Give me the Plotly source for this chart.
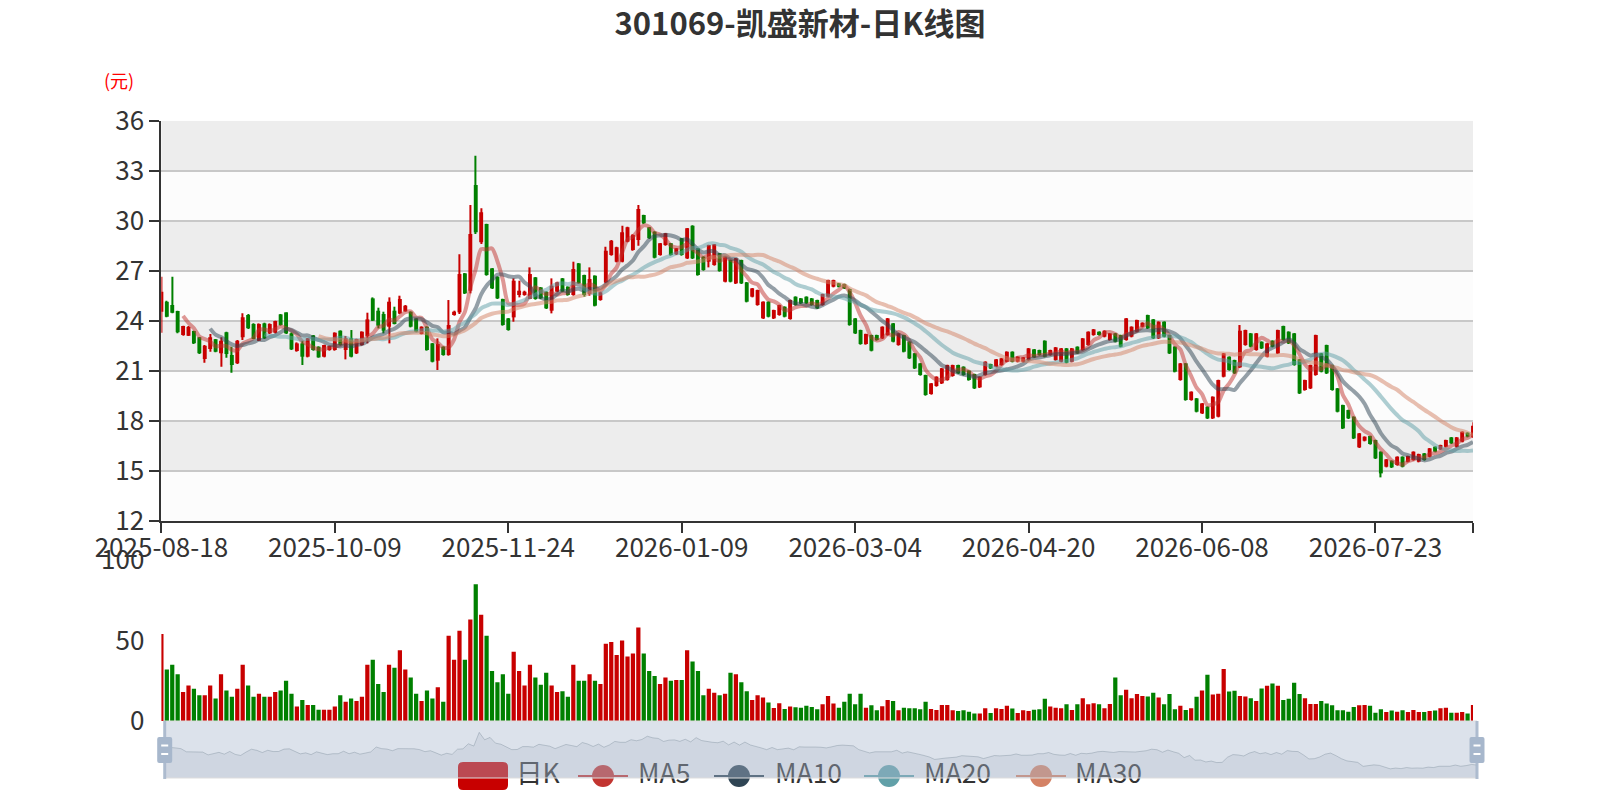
import pandas as pd
import plotly.graph_objects as go

title = "301069-凯盛新材-日K线图"

# trading calendar (weekdays minus exchange holidays)
holidays = ["2025-10-01", "2025-10-02", "2025-10-03", "2025-10-06", "2025-10-07",
            "2025-10-08", "2026-01-01", "2026-01-02", "2026-02-16", "2026-02-17",
            "2026-02-18", "2026-02-19", "2026-02-20", "2026-02-23", "2026-04-06",
            "2026-05-01", "2026-05-04", "2026-05-05", "2026-06-19"]
dates = [d.strftime("%Y-%m-%d") for d in pd.bdate_range("2025-08-18", "2026-08-18")]
dates = [d for d in dates if d not in holidays]

opens = [
    24.54, 25.14, 24.94, 24.58, 23.14, 23.10, 23.38, 23.00, 21.70, 22.30,
    22.88, 22.04, 23.30, 21.94, 21.44, 23.00, 24.34, 23.80, 22.80, 23.84,
    23.24, 23.28, 24.38, 24.50, 23.24, 22.18, 22.64, 21.84, 23.12, 22.44,
    21.84, 22.24, 22.24, 23.40, 22.24, 22.94, 22.04, 22.54, 23.08, 25.34,
    24.60, 24.40, 23.64, 24.60, 24.44, 24.56, 24.54, 24.14, 23.20, 23.64,
    22.64, 21.60, 22.44, 21.94, 24.34, 24.50, 26.84, 25.80, 32.14, 28.70,
    29.80, 27.14, 26.64, 25.30, 24.14, 24.20, 25.54, 25.54, 25.30, 26.60,
    26.00, 25.74, 24.60, 25.74, 26.54, 26.04, 25.54, 27.44, 26.74, 25.60,
    26.70, 25.24, 26.30, 27.94, 27.54, 27.54, 28.74, 28.24, 28.84, 30.34,
    29.60, 29.34, 27.94, 28.54, 28.64, 27.98, 28.94, 27.74, 29.70, 28.34,
    27.84, 27.54, 27.34, 28.04, 26.34, 27.64, 26.24, 27.64, 26.30, 25.44,
    24.94, 24.14, 25.14, 24.14, 24.34, 24.84, 24.10, 25.44, 25.34, 25.44,
    25.34, 25.24, 24.94, 25.44, 26.04, 26.24, 26.20, 25.90, 24.14, 23.44,
    22.60, 23.14, 23.14, 22.94, 23.14, 23.84, 22.54, 23.14, 22.74, 22.04,
    21.44, 20.74, 19.60, 20.08, 20.24, 20.44, 20.68, 21.34, 21.24, 21.00,
    20.80, 20.00, 20.74, 21.40, 21.24, 21.34, 21.54, 22.14, 21.54, 21.54,
    21.64, 22.28, 22.24, 22.80, 21.94, 21.64, 21.54, 22.34, 21.54, 22.44,
    22.24, 22.54, 23.14, 23.34, 23.04, 22.84, 23.24, 23.14, 22.84, 23.04,
    23.34, 23.64, 24.34, 24.08, 22.94, 23.94, 23.14, 22.44, 20.44, 21.44,
    19.24, 19.34, 18.44, 18.84, 18.14, 18.24, 20.64, 21.84, 21.64, 21.20,
    22.54, 23.24, 22.24, 22.74, 21.84, 22.80, 22.04, 23.68, 23.34, 23.24,
    21.68, 19.84, 19.94, 20.74, 22.04, 22.54, 21.34, 19.94, 18.94, 18.64,
    18.24, 16.40, 16.80, 17.08, 16.84, 16.14, 15.24, 15.60, 15.34, 15.84,
    15.54, 15.64, 15.54, 16.04, 15.84, 16.44, 16.28, 16.44, 17.00, 16.44,
    16.74, 17.28, 17.00,
]
closes = [
    25.74, 24.24, 24.48, 23.30, 23.68, 23.62, 22.64, 22.04, 22.50, 23.00,
    22.14, 22.80, 22.00, 21.34, 22.80, 24.20, 23.54, 22.90, 23.80, 22.94,
    23.80, 23.98, 23.74, 23.24, 22.28, 22.64, 21.84, 22.94, 22.24, 21.80,
    22.54, 22.48, 23.28, 22.54, 22.94, 21.84, 22.90, 23.34, 24.08, 24.00,
    23.70, 23.40, 25.14, 23.80, 25.30, 24.90, 23.64, 23.34, 23.64, 22.24,
    21.54, 22.60, 21.94, 23.74, 24.54, 26.80, 25.64, 29.20, 29.30, 30.50,
    26.74, 25.94, 25.34, 23.74, 23.44, 26.40, 25.80, 25.74, 26.80, 25.30,
    25.34, 24.74, 26.10, 26.30, 25.74, 25.54, 27.10, 26.24, 25.54, 26.50,
    24.90, 25.70, 28.20, 28.80, 28.40, 29.30, 29.60, 29.14, 30.70, 29.84,
    28.94, 27.78, 28.64, 29.24, 27.94, 28.34, 27.94, 29.54, 27.74, 26.74,
    27.04, 28.54, 28.58, 26.98, 27.84, 26.34, 27.74, 26.24, 25.14, 25.94,
    25.84, 25.14, 24.24, 24.64, 24.94, 24.24, 25.24, 24.94, 25.04, 25.04,
    24.94, 24.74, 25.60, 26.44, 26.44, 26.04, 25.94, 23.74, 23.24, 22.60,
    23.20, 22.20, 22.84, 23.64, 24.14, 22.74, 23.24, 22.14, 21.74, 21.14,
    20.74, 19.54, 20.24, 20.64, 21.14, 21.34, 21.34, 20.84, 20.74, 20.44,
    19.94, 20.64, 21.54, 21.14, 21.68, 21.74, 22.14, 21.54, 21.84, 21.80,
    22.34, 21.80, 21.94, 21.84, 22.24, 22.40, 22.34, 21.48, 22.34, 22.04,
    22.94, 23.34, 23.48, 23.14, 23.40, 23.24, 22.74, 22.44, 24.14, 23.64,
    24.04, 23.88, 23.54, 22.94, 23.94, 23.04, 22.04, 20.94, 21.44, 19.24,
    19.74, 18.54, 19.04, 18.14, 19.44, 20.44, 22.04, 21.04, 20.84, 23.40,
    23.44, 22.44, 23.24, 22.34, 22.64, 22.44, 23.44, 22.84, 22.64, 21.34,
    19.64, 20.44, 21.34, 23.14, 20.94, 20.84, 19.84, 18.54, 17.54, 18.14,
    16.94, 17.24, 17.04, 16.60, 15.74, 14.84, 15.68, 15.20, 15.84, 15.24,
    15.88, 16.14, 16.00, 15.64, 16.34, 16.14, 16.54, 16.84, 16.64, 17.00,
    17.34, 17.04, 17.70,
]
highs = [
    26.64, 25.20, 26.64, 24.60, 23.70, 23.68, 23.40, 23.02, 22.54, 23.20,
    22.90, 23.00, 23.34, 22.44, 22.84, 24.44, 24.40, 23.84, 23.84, 23.88,
    23.84, 24.00, 24.40, 24.50, 23.30, 22.70, 22.80, 22.96, 23.14, 22.46,
    22.56, 22.50, 23.30, 23.42, 23.08, 23.44, 22.92, 23.36, 24.48, 25.40,
    24.78, 24.54, 25.40, 24.84, 25.50, 24.94, 24.56, 24.16, 23.66, 23.66,
    22.66, 22.94, 22.46, 25.24, 24.60, 27.98, 26.86, 30.94, 33.90, 30.74,
    29.82, 27.16, 26.66, 25.32, 24.16, 26.54, 26.40, 25.80, 27.20, 26.62,
    26.02, 25.76, 26.54, 26.34, 26.56, 26.06, 27.54, 27.46, 26.76, 27.20,
    26.72, 25.74, 28.44, 28.84, 28.44, 29.70, 29.64, 29.18, 30.94, 30.36,
    29.62, 29.36, 28.66, 29.26, 28.66, 28.36, 28.96, 29.56, 29.72, 28.36,
    27.86, 28.56, 28.60, 28.06, 27.86, 27.66, 27.76, 27.66, 26.32, 25.96,
    25.86, 25.16, 25.16, 24.66, 24.96, 24.86, 25.26, 25.46, 25.36, 25.46,
    25.36, 25.26, 25.62, 26.46, 26.46, 26.26, 26.22, 25.92, 24.16, 23.46,
    23.22, 23.16, 23.16, 23.66, 24.16, 23.86, 23.26, 23.16, 22.76, 22.06,
    21.46, 20.76, 20.26, 20.66, 21.16, 21.36, 21.36, 21.36, 21.26, 21.02,
    20.82, 20.66, 21.56, 21.42, 21.70, 21.76, 22.16, 22.16, 21.86, 21.82,
    22.36, 22.30, 22.26, 22.82, 22.26, 22.42, 22.36, 22.36, 22.36, 22.46,
    22.96, 23.36, 23.50, 23.36, 23.42, 23.26, 23.26, 23.16, 24.16, 23.66,
    24.06, 23.90, 24.36, 24.10, 23.96, 23.96, 23.16, 22.46, 21.46, 21.46,
    19.76, 19.36, 19.06, 18.86, 19.46, 20.46, 22.06, 21.86, 21.66, 23.74,
    23.46, 23.26, 23.26, 22.76, 22.66, 22.82, 23.46, 23.70, 23.36, 23.26,
    21.70, 20.46, 21.36, 23.16, 22.06, 22.56, 21.36, 19.96, 18.96, 18.66,
    18.26, 17.26, 17.06, 17.10, 16.86, 16.16, 15.70, 15.62, 15.86, 15.86,
    15.90, 16.16, 16.02, 16.06, 16.36, 16.46, 16.56, 16.86, 17.02, 17.02,
    17.36, 17.30, 17.90,
]
lows = [
    23.28, 24.20, 24.44, 23.24, 23.10, 23.08, 22.60, 22.00, 21.48, 22.14,
    22.10, 21.24, 21.78, 20.88, 21.40, 22.84, 23.50, 22.88, 22.78, 22.90,
    23.20, 23.24, 23.70, 23.20, 22.24, 22.14, 21.34, 21.80, 22.20, 21.78,
    21.80, 22.20, 22.20, 22.50, 21.68, 21.80, 22.00, 22.50, 22.64, 23.98,
    23.54, 23.24, 22.64, 23.78, 24.40, 24.54, 23.60, 23.30, 23.18, 22.20,
    21.50, 21.04, 21.90, 21.90, 24.30, 24.40, 25.60, 25.64, 29.20, 28.60,
    26.70, 25.90, 25.30, 23.70, 23.40, 23.94, 25.40, 25.50, 25.30, 25.26,
    25.30, 24.70, 24.44, 25.70, 25.70, 25.50, 25.50, 26.20, 25.44, 25.50,
    24.86, 25.20, 26.26, 27.90, 27.50, 27.50, 28.70, 28.20, 28.50, 29.80,
    28.90, 27.74, 27.90, 28.50, 27.90, 27.94, 27.90, 27.70, 27.70, 26.70,
    27.00, 27.20, 27.30, 26.94, 26.30, 26.30, 26.20, 26.20, 25.10, 25.40,
    24.90, 24.10, 24.20, 24.10, 24.30, 24.20, 24.06, 24.90, 25.00, 25.00,
    24.90, 24.70, 24.90, 25.40, 26.00, 26.00, 25.90, 23.70, 23.20, 22.56,
    22.56, 22.16, 22.80, 22.90, 23.10, 22.70, 22.50, 22.10, 21.70, 21.10,
    20.70, 19.50, 19.56, 20.04, 20.20, 20.40, 20.64, 20.80, 20.70, 20.40,
    19.90, 19.96, 20.70, 21.10, 21.20, 21.30, 21.50, 21.50, 21.50, 21.50,
    21.60, 21.76, 21.90, 21.80, 21.90, 21.60, 21.50, 21.44, 21.50, 22.00,
    22.20, 22.50, 23.10, 23.10, 23.00, 22.80, 22.70, 22.40, 22.80, 23.00,
    23.30, 23.60, 23.50, 22.90, 22.90, 23.00, 22.00, 20.90, 20.40, 19.20,
    19.20, 18.50, 18.40, 18.10, 18.10, 18.20, 20.60, 21.00, 20.80, 21.16,
    22.50, 22.40, 22.20, 22.30, 21.80, 22.40, 22.00, 22.80, 22.60, 21.30,
    19.60, 19.80, 19.90, 20.70, 20.90, 20.80, 19.80, 18.50, 17.50, 18.10,
    16.90, 16.36, 16.76, 16.56, 15.70, 14.60, 15.20, 15.16, 15.30, 15.20,
    15.50, 15.60, 15.50, 15.60, 15.80, 16.10, 16.24, 16.40, 16.60, 16.40,
    16.70, 17.00, 16.96,
]
volumes = [
    54, 32, 35, 29, 18, 22, 20, 16, 16, 22,
    14, 29, 19, 15, 20, 35, 22, 15, 17, 15,
    15, 18, 19, 25, 17, 9, 13, 10, 10, 7,
    7, 7, 9, 16, 12, 14, 12.5, 15, 35, 38,
    23, 18, 35, 33, 44, 32, 27, 17, 12.5, 19,
    14, 21, 12, 53, 38, 56, 38, 63, 85, 66,
    53, 31, 24, 29, 17, 43, 31, 22, 35, 27,
    22.5, 30, 22, 18, 18.5, 15, 35, 25, 25, 29,
    25, 23, 48, 49, 41, 50, 40, 42, 58, 42,
    31, 28, 23, 27, 25, 25.5, 25.5, 44, 37, 31,
    16, 20, 17.5, 16, 17, 30, 29, 24, 18.5, 13,
    16, 14.6, 11.5, 8, 11, 7.5, 9, 8.5, 8.3, 9.4,
    8.75, 7.3, 10.4, 15.6, 10.8, 8.3, 11.9, 17, 10.4, 17,
    8.3, 9.8, 6.7, 9.2, 13, 12.5, 6.7, 8.3, 7.9, 7.9,
    7.3, 11.9, 7.5, 6.9, 10, 10, 6.7, 6.25, 6.7, 5.8,
    4.6, 4.6, 7.9, 5, 7.9, 7.5, 9.4, 7.7, 5, 6.7,
    6.25, 7, 7.3, 13.75, 9, 8.3, 7.9, 10.4, 6.9, 10.4,
    14.2, 10.4, 11, 10.4, 7.9, 10.6, 27, 16, 19.4, 14.2,
    16.7, 15.6, 15.2, 17.5, 14.6, 10.4, 16.7, 7.3, 9.4, 6.9,
    7.9, 15, 19, 28.75, 16.5, 16.9, 32.3, 18.3, 18.75, 15.6,
    15.2, 14.2, 12.5, 20.2, 21.9, 23.3, 21.9, 13, 13.75, 23.75,
    16.7, 14.2, 10.6, 10.6, 12.5, 10.8, 9.8, 6.7, 6.7, 5.8,
    8.75, 9.8, 10, 9.4, 5.2, 7.3, 5.6, 6.5, 5.8, 6.7,
    5.6, 6.9, 5.6, 5.6, 6.25, 6.5, 7.9, 8.3, 5.2, 5.2,
    5.6, 4.6, 10,
]

ma_windows = [5, 10, 20, 30]
ma_names = ["MA5", "MA10", "MA20", "MA30"]
ma_colors = ["#c23531", "#2f4554", "#61a0a8", "#d48265"]

UP = "#c80000"
DOWN = "#008000"
FONT = "Noto Sans CJK SC"
W, H = 1600, 800


def fx(p):
    return p / W


def fy(p):
    return 1 - p / H


n = len(dates)
colors = [UP if c >= o else DOWN for o, c in zip(opens, closes)]
body_base = [min(o, c) for o, c in zip(opens, closes)]
body_len = [max(abs(c - o), 0.04) for o, c in zip(opens, closes)]
wick_len = [h - l for h, l in zip(highs, lows)]

fig = go.Figure()

# candles: wick + body
fig.add_bar(x=dates, y=wick_len, base=lows, width=0.22,
            marker=dict(color=colors, line_width=0), xaxis="x", yaxis="y", hoverinfo="skip")
fig.add_bar(x=dates, y=body_len, base=body_base, width=0.72,
            marker=dict(color=colors, line_width=0), xaxis="x", yaxis="y")

close_s = pd.Series(closes)
for w, col in zip(ma_windows, ma_colors):
    fig.add_scatter(x=dates, y=close_s.rolling(w).mean().tolist(), mode="lines",
                    line=dict(color=col, width=4, shape="spline", smoothing=0.8),
                    opacity=0.5, xaxis="x", yaxis="y")

# volume
fig.add_bar(x=dates, y=volumes, width=0.78, marker=dict(color=colors, line_width=0),
            xaxis="x2", yaxis="y2")

# slider mini chart
fig.add_scatter(x=dates, y=opens, mode="lines", fill="tozeroy",
                line=dict(color="rgba(47,69,84,0.3)", width=1),
                fillcolor="rgba(47,69,84,0.1)", xaxis="x3", yaxis="y3")

# legend (drawn in pixel space, under the slider filler)
leg_y = 776
icon_x = [578, 714, 864, 1016]
for x0, col in zip(icon_x, ma_colors):
    fig.add_scatter(x=[x0, x0 + 50], y=[leg_y, leg_y], mode="lines",
                    line=dict(color=col, width=2), xaxis="x4", yaxis="y4", cliponaxis=False)
    fig.add_scatter(x=[x0 + 25], y=[leg_y], mode="markers",
                    marker=dict(color=col, size=22, line_width=0),
                    xaxis="x4", yaxis="y4", cliponaxis=False)
fig.add_scatter(x=[516, 638, 775, 924, 1075], y=[leg_y] * 5, mode="text",
                text=["日K"] + ma_names, textposition="middle right",
                textfont=dict(family=FONT, size=26.5, color="#333"),
                xaxis="x4", yaxis="y4", cliponaxis=False)

shapes = []
for k, lo in enumerate(range(12, 36, 3)):
    shapes.append(dict(type="rect", xref="x domain", yref="y", x0=0, x1=1, y0=lo, y1=lo + 3,
                       fillcolor="#fcfcfc" if k % 2 == 0 else "#ededed",
                       line_width=0, layer="below"))

shapes.append(dict(type="path", xref="x4", yref="y4", layer="above", fillcolor=UP, line_width=0,
                   path="M463,762 L503,762 Q508,762 508,767 L508,785 Q508,790 503,790 "
                        "L463,790 Q458,790 458,785 L458,767 Q458,762 463,762 Z"))

sl_left, sl_right, sl_top, sl_bot = 164.7, 1477, 721, 778
shapes.append(dict(type="rect", xref="x4", yref="y4", layer="above",
                   x0=sl_left, x1=sl_right, y0=sl_top, y1=sl_bot,
                   fillcolor="rgba(167,183,204,0.4)", line=dict(color="#dddddd", width=1)))
for cx in (sl_left, sl_right):
    shapes.append(dict(type="rect", xref="x4", yref="y4", layer="above",
                       x0=cx - 1.5, x1=cx + 1.5, y0=sl_top, y1=sl_bot + 1,
                       fillcolor="rgba(167,183,204,0.9)", line_width=0))
    shapes.append(dict(type="path", xref="x4", yref="y4", layer="above",
                       fillcolor="#a7b7cc", line_width=0,
                       path=f"M{cx-5.5},737 L{cx+5.5},737 Q{cx+7.5},737 {cx+7.5},739 "
                            f"L{cx+7.5},761 Q{cx+7.5},763 {cx+5.5},763 L{cx-5.5},763 "
                            f"Q{cx-7.5},763 {cx-7.5},761 L{cx-7.5},739 Q{cx-7.5},737 {cx-5.5},737 Z"))
    for yy in (745.5, 754):
        shapes.append(dict(type="line", xref="x4", yref="y4", layer="above",
                           x0=cx - 3.5, x1=cx + 3.5, y0=yy, y1=yy,
                           line=dict(color="white", width=2)))

axis_font = dict(family=FONT, size=26, color="#333")
tick_pos = dates[::32] + [dates[-1]]
tick_txt = dates[::32] + [""]
hidden = dict(visible=False, fixedrange=True, automargin=False)

fig.update_layout(
    width=W, height=H, autosize=False,
    margin=dict(l=0, r=0, t=0, b=0, autoexpand=False),
    paper_bgcolor="white", plot_bgcolor="rgba(0,0,0,0)",
    showlegend=False, barmode="overlay",
    font=dict(family=FONT, color="#333"),
    title=dict(text=title, x=0.5, xanchor="center", y=fy(24), yanchor="middle",
               font=dict(family=FONT, size=31, color="#333", weight="bold")),
    xaxis=dict(domain=[fx(161.4), fx(1473)], anchor="y", type="category", range=[0, n - 1],
               showline=True, linecolor="#333", linewidth=2, ticks="outside", ticklen=10,
               tickwidth=2, tickcolor="#333", tickmode="array", tickvals=tick_pos,
               ticktext=tick_txt, tickfont=axis_font, showgrid=False, zeroline=False,
               ticklabelstandoff=-7, fixedrange=True, automargin=False),
    yaxis=dict(domain=[fy(520.7), fy(120.7)], anchor="x", range=[12, 36],
               tickmode="array", tickvals=list(range(12, 37, 3)),
               showline=True, linecolor="#333", linewidth=2, ticks="outside", ticklen=10,
               tickwidth=2, tickcolor="#333", tickfont=axis_font, showgrid=True,
               gridcolor="#c8c8c8", gridwidth=1.5, zeroline=False, ticklabelstandoff=0,
               fixedrange=True, automargin=False),
    xaxis2=dict(domain=[fx(161.4), fx(1473)], anchor="y2", type="category", range=[0, n - 1],
                **hidden),
    yaxis2=dict(domain=[fy(721), fy(560)], anchor="x2", range=[0, 100],
                tickmode="array", tickvals=[0, 50, 100], showgrid=False, showline=False,
                ticks="", tickfont=axis_font, zeroline=False, ticklabelstandoff=16,
                fixedrange=True, automargin=False),
    xaxis3=dict(domain=[fx(sl_left), fx(sl_right)], anchor="y3", type="category",
                range=[0, n - 1], **hidden),
    yaxis3=dict(domain=[fy(sl_bot), fy(sl_top)], anchor="x3", range=[11.0, 37.4], **hidden),
    xaxis4=dict(domain=[0, 1], anchor="y4", range=[0, W], **hidden),
    yaxis4=dict(domain=[0, 1], anchor="x4", range=[H, 0], **hidden),
    shapes=shapes,
    annotations=[dict(text="(元)", xref="paper", yref="paper", x=fx(119), y=fy(79.5),
                      showarrow=False, xanchor="center", yanchor="middle",
                      font=dict(family=FONT, size=18, color="red"))],
)

# the page body has an 8px default margin; drop it so the chart sits at the window origin
fig.write_html("out.html", config={"displayModeBar": False},
               post_script="document.body.style.margin = '0';")
